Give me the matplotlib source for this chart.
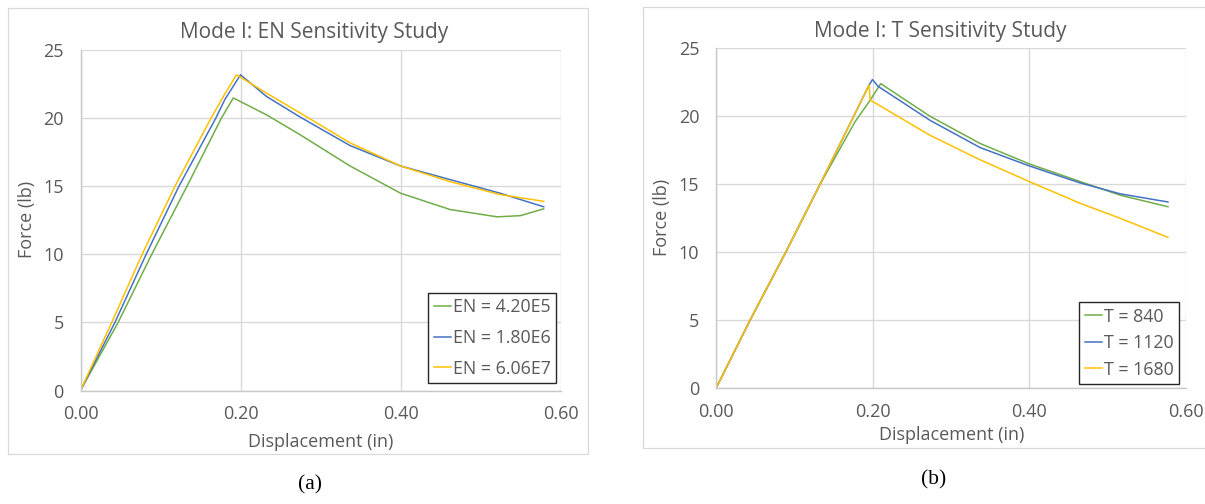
import matplotlib
matplotlib.use("Agg")
import matplotlib.pyplot as plt
from matplotlib.patches import Rectangle

# ---- data: Mode I, EN sensitivity (force vs. displacement) ----
en_labels = ["EN = 4.20E5", "EN = 1.80E6", "EN = 6.06E7"]
en_420e5_x = [0, 0.047, 0.089, 0.133, 0.176, 0.191, 0.2327, 0.2744, 0.3369, 0.40, 0.4619, 0.521, 0.55, 0.579]
en_420e5_f = [0, 5, 10, 15, 20, 21.5, 20.25, 18.8, 16.5, 14.5, 13.3, 12.76, 12.85, 13.35]
en_180e6_x = [0, 0.043, 0.082, 0.123, 0.169, 0.1806, 0.20, 0.2327, 0.2744, 0.3369, 0.40, 0.4619, 0.5244, 0.579]
en_180e6_f = [0, 5, 10, 15, 20, 21.4, 23.2, 21.6, 20.1, 18.0, 16.5, 15.5, 14.5, 13.5]
en_606e7_x = [0, 0.039, 0.077, 0.118, 0.163, 0.181, 0.195, 0.2327, 0.2744, 0.3369, 0.40, 0.4619, 0.5244, 0.579]
en_606e7_f = [0, 5, 10, 15, 20, 21.85, 23.2, 21.85, 20.4, 18.2, 16.5, 15.35, 14.4, 13.9]

# ---- data: Mode I, T sensitivity ----
t_labels = ["T = 840", "T = 1120", "T = 1680"]
t_840_x = [0, 0.0434, 0.089, 0.1328, 0.1775, 0.197, 0.2103, 0.2733, 0.3372, 0.40, 0.4649, 0.516, 0.577]
t_840_f = [0, 5, 10, 15, 19.6, 21.2, 22.4, 20.0, 18.0, 16.5, 15.2, 14.2, 13.35]
t_1120_x = [0, 0.0434, 0.089, 0.1328, 0.1775, 0.1954, 0.1997, 0.207, 0.2733, 0.3372, 0.40, 0.4649, 0.516, 0.577]
t_1120_f = [0, 5, 10, 15, 20.2, 22.3, 22.7, 22.2, 19.7, 17.7, 16.35, 15.1, 14.3, 13.7]
t_1680_x = [0, 0.0434, 0.089, 0.1328, 0.1775, 0.1954, 0.1967, 0.2733, 0.3372, 0.40, 0.4649, 0.516, 0.577]
t_1680_f = [0, 5, 10, 15, 20.2, 22.3, 21.2, 18.6, 16.8, 15.2, 13.6, 12.5, 11.1]

x_ticks = [0.0, 0.2, 0.4, 0.6]
x_ticklabels = ["0.00", "0.20", "0.40", "0.60"]
y_ticks = [0, 5, 10, 15, 20, 25]

GREEN, BLUE, GOLD = "#70AD47", "#4472C4", "#FFC000"
TEXT = "#595959"
GRID = "#D9D9D9"
FONT = "Open Sans"

W, H = 1205, 504
fig = plt.figure(figsize=(W / 100, H / 100), dpi=100)


def px_axes(x0, y0, x1, y1):
    return fig.add_axes([x0 / W, 1 - y1 / H, (x1 - x0) / W, (y1 - y0) / H])


def frame(x0, y0, x1, y1):
    fig.patches.append(Rectangle((x0 / W, 1 - y1 / H), (x1 - x0) / W, (y1 - y0) / H,
                                 transform=fig.transFigure, fill=False,
                                 edgecolor=GRID, linewidth=0.9))


def style(ax, title, title_pos, xlab_pos, ylab_pos):
    ax.set_xlim(0, 0.6)
    ax.set_ylim(0, 25)
    ax.set_xticks(x_ticks)
    ax.set_xticklabels(x_ticklabels)
    ax.set_yticks(y_ticks)
    ax.grid(True, color=GRID, linewidth=1.0)
    ax.set_axisbelow(True)
    for s in ["top", "right"]:
        ax.spines[s].set_visible(False)
    for s in ["left", "bottom"]:
        ax.spines[s].set_color("#C8C8C8")
        ax.spines[s].set_linewidth(1.0)
    ax.tick_params(length=0, labelsize=13, labelcolor=TEXT)
    ax.tick_params(axis="x", pad=10.5)
    ax.tick_params(axis="y", pad=12)
    for lab in ax.get_xticklabels() + ax.get_yticklabels():
        lab.set_fontfamily(FONT)
    ax.text(title_pos[0], title_pos[1], title, transform=ax.transAxes,
            ha="center", va="center", fontsize=15, color=TEXT, family=FONT)
    ax.set_xlabel("Displacement (in)", fontsize=13, color=TEXT, family=FONT)
    ax.xaxis.set_label_coords(*xlab_pos)
    ax.xaxis.label.set_va("center")
    ax.set_ylabel("Force (lb)", fontsize=13, color=TEXT, family=FONT)
    ax.yaxis.set_label_coords(*ylab_pos)
    ax.yaxis.label.set_va("center")


def add_legend(ax, anchor, spacing, size):
    leg = ax.legend(loc="lower right", bbox_to_anchor=anchor, borderaxespad=0,
                    fancybox=False, edgecolor="#262626", framealpha=1,
                    handlelength=1.0, handletextpad=0.08, labelspacing=spacing,
                    borderpad=0.3, prop={"family": FONT, "size": size})
    leg.get_frame().set_linewidth(1.0)
    for t in leg.get_texts():
        t.set_color(TEXT)
    return leg


# panel (a)
frame(8, 8, 588, 454)
ax1 = px_axes(80.5, 50.3, 560.5, 390.5)
ax1.plot(en_420e5_x, en_420e5_f, color=GREEN, lw=1.1, label=en_labels[0])
ax1.plot(en_180e6_x, en_180e6_f, color=BLUE, lw=1.1, label=en_labels[1])
ax1.plot(en_606e7_x, en_606e7_f, color=GOLD, lw=1.1, label=en_labels[2])
style(ax1, "Mode I: EN Sensitivity Study", (0.4865, 1.0526), (0.5004, -0.151), (-0.1117, 0.503))
add_legend(ax1, (0.9906, 0.022), 0.72, 12.8)

# panel (b)
frame(643, 7, 1212, 447.5)
ax2 = px_axes(716, 48.3, 1186, 388.3)
ax2.plot(t_840_x, t_840_f, color=GREEN, lw=1.1, label=t_labels[0])
ax2.plot(t_1120_x, t_1120_f, color=BLUE, lw=1.1, label=t_labels[1])
ax2.plot(t_1680_x, t_1680_f, color=GOLD, lw=1.1, label=t_labels[2])
style(ax2, "Mode I: T Sensitivity Study", (0.4777, 1.0506), (0.501, -0.137), (-0.114, 0.502))
add_legend(ax2, (0.985, 0.0126), 0.48, 12.8)

# sub-figure captions
fig.text(310 / W, 1 - 485 / H, "(a)", ha="center", va="center",
         fontsize=15.5, family="Liberation Serif", color="black")
fig.text(934 / W, 1 - 480 / H, "(b)", ha="center", va="center",
         fontsize=15.5, family="Liberation Serif", color="black")

fig.savefig("out.png", dpi=100)
